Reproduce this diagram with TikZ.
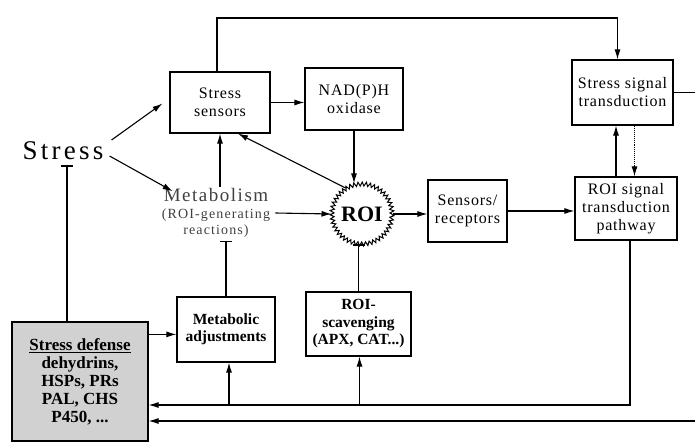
\documentclass[tikz,border=0pt]{standalone}
\usepackage{fontspec}
\setmainfont{Liberation Serif}
\usetikzlibrary{arrows.meta,decorations.pathmorphing,calc}
\begin{document}
\begin{tikzpicture}[x=1pt,y=-1pt,
  box/.style={draw, line width=1.2pt, align=center, inner sep=1pt},
  arr/.style={line width=1.1pt, -{Latex[length=10pt,width=6pt]}},
  inh/.style={line width=1.1pt, -{Bar[width=12pt,line width=1.6pt]}},
  ln/.style={line width=1.1pt},
  bt/.style={font=\fontsize{16}{18}\selectfont\addfontfeature{LetterSpace=5}},
  bb/.style={font=\bfseries\fontsize{15.5}{17.5}\selectfont}
]
\useasboundingbox (0,0) rectangle (695,443);

% nodes
\node[inner sep=0, font=\fontsize{27}{30}\selectfont\addfontfeature{LetterSpace=12}] (stress) at (63,151) {Stress};
\node[box, bt, minimum width=100pt, minimum height=61pt] (sens) at (220,102.5) {Stress\\sensors};
\node[box, bt, minimum width=98pt, minimum height=62pt] (nadph) at (354,99) {NAD(P)H\\oxidase};
\node[box, bt, minimum width=101pt, minimum height=65pt] (ssig) at (622.5,92.5) {Stress signal\\transduction};
\node[box, bt, minimum width=79pt, minimum height=62pt] (recep) at (467.5,211) {Sensors/\\receptors};
\node[box, bt, minimum width=102pt, minimum height=63pt] (rsig) at (626,208.5) {ROI signal\\transduction\\pathway};
\node[box, bb, minimum width=98pt, minimum height=65pt] (madj) at (226,329.5) {Metabolic\\adjustments};
\node[box, bb, minimum width=105pt, minimum height=64pt] (scav) at (358.5,324) {ROI-\\scavenging\\(APX, CAT...)};
\node[box, fill=black!18, minimum width=136pt, minimum height=119pt,
      font=\bfseries\fontsize{17}{18}\selectfont] (defense) at (80,381.5)
      {\underline{Stress defense}\\dehydrins,\\HSPs, PRs\\PAL, CHS\\P450, ...};
\node[align=center, inner sep=1pt, text=black!75, font=\fontsize{14}{16.5}\selectfont\addfontfeature{LetterSpace=8}] (metab) at (216,213)
      {{\fontsize{19}{19}\selectfont Metabolism}\\(ROI-generating\\reactions)};
\node[circle, draw, line width=1pt, minimum size=60pt, inner sep=0,
      decorate, decoration={zigzag, segment length=4pt, amplitude=2pt},
      font=\bfseries\fontsize{22}{24}\selectfont] (roi) at (362,214) {ROI};

\coordinate (topy) at (0,18);
\coordinate (bus) at (0,405);
\coordinate (rightout) at (695,95);
\coordinate (rightin) at (695,421);

% connectors
\draw[arr] ([shift={(8pt,11pt)}]stress.east) -- ([shift={(-7pt,-1pt)}]sens.west);
\draw[arr] ([shift={(6pt,-5pt)}]stress.east) -- ([shift={(12pt,-4pt)}]metab.north west);
\draw[arr] (sens.south |- metab.north) -- (sens.south);
\draw[arr] ([xshift=4pt]metab.east) -- (roi.west);
\draw[inh] (madj.north) -- ([yshift=-2pt]madj.north |- metab.south);
\draw[arr] ([yshift=-13pt]defense.north east) -- ([yshift=-13pt]defense.north east -| madj.west);
\draw[inh] ([xshift=4pt]stress.south |- defense.north) -- ([shift={(4pt,-5pt)}]stress.south);
\draw[arr] (sens.east) -- (sens.east -| nadph.west);
\draw[arr] (nadph.south) -- (nadph.south |- roi.north);
\draw[arr] (roi.122) -- ([xshift=18pt]sens.south);
\draw[arr] (roi.east) -- (roi.east -| recep.west);
\draw[arr] (recep.east) -- (recep.east -| rsig.west);
\draw[inh] (scav.north) -- (scav.north |- roi.south);
\draw[arr] ([xshift=-3pt]sens.north) -- ([xshift=-3pt]sens.north |- topy) -| ([xshift=-5pt]ssig.north);
\draw[arr] ([xshift=-10pt]rsig.north) -- ([xshift=-10pt]rsig.north |- ssig.south);
\draw[arr, densely dotted] ([xshift=12pt]ssig.south) -- ([xshift=12pt]ssig.south |- rsig.north);
\draw[ln] (ssig.east) -- (ssig.east -| rightout);
\draw[arr] ([xshift=4pt]rsig.south) -- ([xshift=4pt]rsig.south |- bus) -- (bus -| defense.east);
\draw[arr] ([xshift=3pt]madj.south |- bus) -- ([xshift=3pt]madj.south);
\draw[arr] ([xshift=1pt]scav.south |- bus) -- ([xshift=1pt]scav.south);
\draw[arr] (rightin) -- (rightin -| defense.east);
\end{tikzpicture}
\end{document}
